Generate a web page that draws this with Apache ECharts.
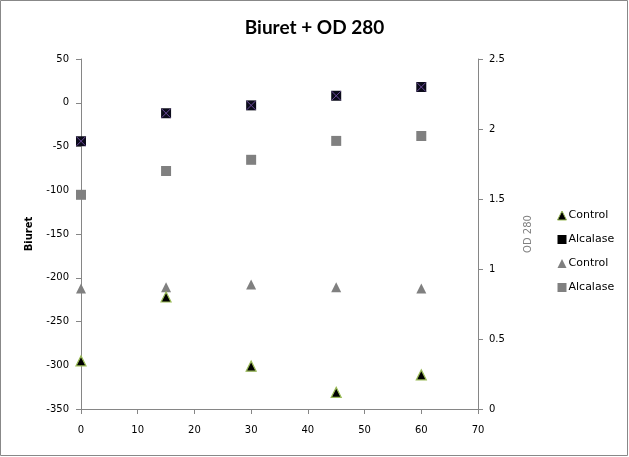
<!DOCTYPE html>
<html>
<head>
<meta charset="utf-8">
<script src="https://cdn.jsdelivr.net/npm/echarts@6/dist/echarts.min.js"></script>
<style>html,body{margin:0;padding:0;background:#fff;}#c{width:629px;height:457px;}</style>
</head>
<body>
<div id="c"></div>
<script>
var times = [0, 15, 30, 45, 60];
var biuretControl = [-295, -222, -301, -331, -311];
var biuretAlcalase = [-44, -12, -3, 8, 18];
var odControl = [0.86, 0.87, 0.89, 0.87, 0.86];
var odAlcalase = [1.53, 1.70, 1.78, 1.915, 1.95];
var xTicks = {min: 0, max: 70, interval: 10};
var yLeftTicks = {min: -350, max: 50, interval: 50};
var yRightTicks = {min: 0, max: 2.5, interval: 0.5};

function pairs(xs, ys) { return xs.map(function (x, i) { return [x, ys[i]]; }); }

var chart = echarts.init(document.getElementById('c'), null, {renderer: 'canvas'});
var axisLine = {show: true, onZero: false, lineStyle: {color: '#868686', width: 1}};
var axisTick = {show: true, inside: false, length: 5, lineStyle: {color: '#868686'}};
var axisLabel = {color: '#000', fontFamily: 'DejaVu Sans', fontSize: 10};
var xPath = 'path://M0,0 L10,10 M10,0 L0,10';
var tri = 'triangle';

chart.setOption({
  animation: false,
  backgroundColor: '#fff',
  title: {
    text: 'Biuret + OD 280', left: 'center', top: 13,
    textStyle: {fontFamily: 'Lato', fontWeight: 'bold', fontSize: 19, color: '#000'}
  },
  grid: {left: 81, right: 151, top: 59, bottom: 48, containLabel: false},
  legend: {
    orient: 'vertical', left: 552, top: 205, itemWidth: 9, itemHeight: 9, itemGap: 13,
    data: [
      {name: 'Control', icon: 'triangle', itemStyle: {color: '#000', borderColor: '#9bbb59', borderWidth: 1}},
      {name: 'Alcalase', icon: 'rect', itemStyle: {color: '#000'}},
      {name: 'Control ', icon: 'triangle', itemStyle: {color: '#808080'}},
      {name: 'Alcalase ', icon: 'rect', itemStyle: {color: '#808080'}}
    ],
    textStyle: {fontFamily: 'DejaVu Sans', fontSize: 11, color: '#000', padding: [0, 0, 0, -3]}
  },
  xAxis: {
    type: 'value', min: xTicks.min, max: xTicks.max, interval: xTicks.interval,
    axisLine: axisLine, axisTick: axisTick, splitLine: {show: false},
    axisLabel: Object.assign({margin: 16}, axisLabel)
  },
  yAxis: [{
    type: 'value', position: 'left', min: yLeftTicks.min, max: yLeftTicks.max, interval: yLeftTicks.interval,
    axisLine: axisLine, axisTick: axisTick, splitLine: {show: false},
    axisLabel: Object.assign({margin: 12}, axisLabel),
    name: 'Biuret', nameLocation: 'middle', nameRotate: 90, nameGap: 47,
    nameTextStyle: {fontFamily: 'DejaVu Sans', fontSize: 10, fontWeight: 'bold', color: '#000'}
  }, {
    type: 'value', position: 'right', min: yRightTicks.min, max: yRightTicks.max, interval: yRightTicks.interval,
    axisLine: axisLine, axisTick: axisTick, splitLine: {show: false},
    axisLabel: Object.assign({margin: 11}, axisLabel),
    name: 'OD 280', nameLocation: 'middle', nameRotate: 90, nameGap: 45,
    nameTextStyle: {fontFamily: 'DejaVu Sans', fontSize: 10, color: '#808080'}
  }],
  series: [
    {name: 'Control', type: 'scatter', yAxisIndex: 0, data: pairs(times, biuretControl),
     symbol: tri, symbolSize: 10, itemStyle: {color: '#000', borderColor: '#9bbb59', borderWidth: 1.2, opacity: 1}, z: 5},
    {name: 'Alcalase', type: 'scatter', yAxisIndex: 0, data: pairs(times, biuretAlcalase),
     symbol: 'rect', symbolSize: 10, itemStyle: {color: '#0b0b1a', opacity: 1}, z: 5},
    {name: 'AlcalaseX', type: 'scatter', yAxisIndex: 0, data: pairs(times, biuretAlcalase),
     symbol: xPath, symbolSize: 9, itemStyle: {color: 'none', borderColor: '#6b4a9a', borderWidth: 1, opacity: 1}, z: 6, silent: true},
    {name: 'Control ', type: 'scatter', yAxisIndex: 1, data: pairs(times, odControl),
     symbol: tri, symbolSize: 10, itemStyle: {color: '#808080', opacity: 1}, z: 4},
    {name: 'Alcalase ', type: 'scatter', yAxisIndex: 1, data: pairs(times, odAlcalase),
     symbol: 'rect', symbolSize: 10, itemStyle: {color: '#808080', opacity: 1}, z: 4}
  ],
  graphic: [{
    type: 'rect', z: 100, silent: true, x: 0, y: 0,
    shape: {x: 0.5, y: 0.5, width: 627, height: 455},
    style: {fill: 'none', stroke: '#888', lineWidth: 1}
  }]
});
</script>
</body>
</html>
